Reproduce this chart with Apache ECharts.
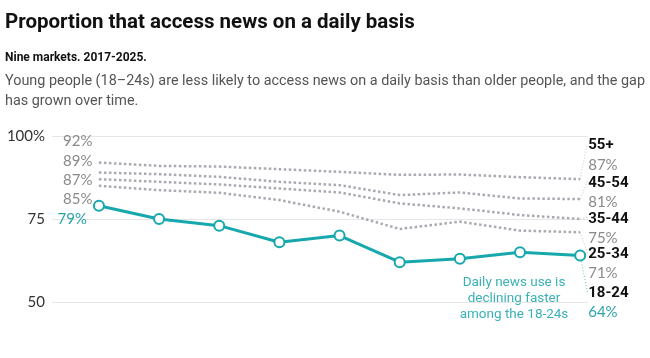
<!DOCTYPE html>
<html><head><meta charset="utf-8">
<script src="https://cdn.jsdelivr.net/npm/echarts@6/dist/echarts.min.js"></script>
<style>html,body{margin:0;padding:0;background:#fff}#c{width:650px;height:358px}</style>
</head><body><div id="c"></div>
<script>
const years = [2017, 2018, 2019, 2020, 2021, 2022, 2023, 2024, 2025];
const age55plus = [92, 91, 90.8, 90, 89.2, 88.3, 88.4, 87.6, 87];
const age45to54 = [89, 88.5, 87.7, 86.2, 85.2, 82.2, 83, 81.2, 81];
const age35to44 = [87, 86.2, 85.4, 84.2, 83, 79.7, 78.2, 76.2, 75];
const age25to34 = [85, 83.7, 82.9, 80.7, 77.2, 72, 74.2, 71.5, 71];
const age18to24 = [79, 75, 73, 68, 70, 62, 63, 65, 64];
const groupNames = ['55+', '45-54', '35-44', '25-34', '18-24'];
const startLabels = ['92%', '89%', '87%', '85%', '79%'];
const endLabels = ['87%', '81%', '75%', '71%', '64%'];
const yTicks = [50, 75, 100];

// layout only: label offsets (px) and leader-line end points (axis units)
const leftDy = [-21, -11, 1, 13, 13];
const rightDy = [-26, -8, 8, 29, 45];
const leaderEndX = 2025.12;
const leaderEndY = [97.6, 86.4, 75.6, 64.8, 53.0];

const TEAL = '#16a8ad';
const DOT = '#a9a9b1';
const LEADER = '#c2c2c8';
const GREYTXT = '#8a8a8a';
const FONT = "Roboto, 'Noto Sans', sans-serif";
const NUMFONT = "Lato, Roboto, sans-serif";

const groups = [age55plus, age45to54, age35to44, age25to34, age18to24];
const last = years.length - 1;

function makeData(vals, gi) {
  const isTeal = gi === 4;
  return vals.map((v, i) => {
    const item = { value: [years[i], v] };
    if (i === 0) {
      item.label = {
        show: true, position: 'left', distance: 6,
        formatter: startLabels[gi],
        fontFamily: NUMFONT, fontSize: 15, color: isTeal ? '#2aa3a8' : GREYTXT
      };
    } else if (i === last) {
      item.label = {
        show: true, position: 'right', distance: 8,
        formatter: '{a|' + groupNames[gi] + '}\n{b|' + endLabels[gi] + '}',
        rich: {
          a: { fontFamily: FONT, fontWeight: 'bold', fontSize: 15, color: '#111', lineHeight: 19 },
          b: { fontFamily: NUMFONT, fontSize: 15, color: isTeal ? '#2aa3a8' : GREYTXT, lineHeight: 19 }
        }
      };
    } else {
      item.label = { show: false };
    }
    return item;
  });
}

const series = [];
series.push({
  type: 'line', stack: 'band', silent: true, symbol: 'none', z: 1,
  data: years.map((y, i) => [y, age18to24[i]]),
  lineStyle: { opacity: 0 }
});
series.push({
  type: 'line', stack: 'band', silent: true, symbol: 'none', z: 1,
  data: years.map((y, i) => [y, age55plus[i] - age18to24[i]]),
  lineStyle: { opacity: 0 },
  areaStyle: { color: '#e9e9ea', opacity: 0.75 }
});
groups.forEach((vals, gi) => {
  const isTeal = gi === 4;
  const lc = isTeal ? '#5cc3c7' : LEADER;
  series.push({
    type: 'line', silent: true, z: isTeal ? 5 : 3, clip: false,
    color: isTeal ? TEAL : DOT,
    data: makeData(vals, gi),
    symbol: isTeal ? 'emptyCircle' : 'circle',
    symbolSize: isTeal ? 10 : 1,
    showSymbol: true,
    itemStyle: isTeal ? { color: TEAL, borderColor: TEAL, borderWidth: 2.5 } : { color: 'rgba(0,0,0,0)' },
    lineStyle: isTeal ? { color: TEAL, width: 3 } : { color: DOT, width: 2.5, type: 'dotted' },
    labelLayout: (p) => {
      if (p.dataIndex === 0) return { dy: leftDy[gi] };
      const cx = p.rect.x + p.rect.width / 2;
      return { x: cx + 8, y: p.labelRect.y + rightDy[gi], align: 'left', verticalAlign: 'top' };
    },
    markLine: {
      silent: true, symbol: 'none', z: 1,
      label: { show: false },
      itemStyle: { color: lc },
      lineStyle: { color: lc, width: 1, type: [1, 2], opacity: 1 },
      emphasis: { disabled: true },
      data: [[
        { coord: [years[last], vals[last]], lineStyle: { color: lc } },
        { coord: [leaderEndX, leaderEndY[gi]] }
      ]]
    },
    emphasis: { disabled: true }
  });
});

const chart = echarts.init(document.getElementById('c'));
chart.setOption({
  animation: false,
  grid: { left: 52, right: 62, top: 136, bottom: 56 },
  xAxis: {
    type: 'value', min: 2016.22, max: 2025.13,
    axisLine: { show: false }, axisTick: { show: false }, axisLabel: { show: false }, splitLine: { show: false }
  },
  yAxis: {
    type: 'value', min: yTicks[0], max: yTicks[yTicks.length - 1], interval: 25,
    axisLine: { show: false }, axisTick: { show: false },
    axisLabel: {
      margin: 7, fontFamily: NUMFONT, fontSize: 15, color: '#333',
      formatter: (v) => v === 100 ? '100%' : String(v)
    },
    splitLine: { lineStyle: { color: '#e6e6e6', width: 1 } }
  },
  series: series,
  graphic: [
    { type: 'text', left: 5, top: 12, style: { text: 'Proportion that access news on a daily basis', font: "bold 20.5px " + FONT, fill: '#111' } },
    { type: 'text', left: 5, top: 52, style: { text: 'Nine markets. 2017-2025.', font: "bold 12px " + FONT, fill: '#111' } },
    { type: 'text', left: 5, top: 74, style: { text: 'Young people (18–24s) are less likely to access news on a daily basis than older people, and the gap', font: "14.4px " + FONT, fill: '#555' } },
    { type: 'text', left: 5, top: 94, style: { text: 'has grown over time.', font: "14.4px " + FONT, fill: '#555' } },
    { type: 'text', x: 514, y: 299, style: { text: 'Daily news use is\ndeclining faster\namong the 18-24s', font: "13.5px " + FONT, fill: '#3ab1b6', align: 'center', verticalAlign: 'middle', lineHeight: 16 } }
  ]
});
</script></body></html>
